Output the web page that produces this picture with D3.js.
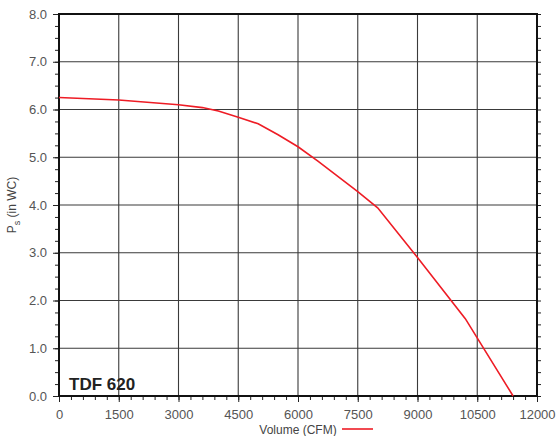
<!DOCTYPE html>
<html>
<head>
<meta charset="utf-8">
<script src="https://cdn.jsdelivr.net/npm/d3@7"></script>
<style>
  body { margin: 0; background: #fff; }
  text { font-family: "Liberation Sans", Arial, sans-serif; }
</style>
</head>
<body>
<div id="chart"></div>
<script>
// Fan curve readings (volume CFM, static pressure in WC)
const volume = [0, 1500, 3000, 3600, 4000, 4500, 5000, 5500, 6000, 6500, 7000, 7500, 8000, 9000, 10200, 11400];
const pressure = [6.25, 6.20, 6.10, 6.04, 5.97, 5.84, 5.70, 5.47, 5.22, 4.92, 4.60, 4.28, 3.94, 2.90, 1.62, 0];
const xTicks = [0, 1500, 3000, 4500, 6000, 7500, 9000, 10500, 12000];
const yTicks = [0, 1, 2, 3, 4, 5, 6, 7, 8];
const modelName = "TDF 620";

const width = 557, height = 436;
const margin = { top: 14, right: 20, bottom: 40, left: 59 };

const svg = d3.select("#chart").append("svg")
    .attr("width", width)
    .attr("height", height);

const x = d3.scaleLinear().domain([0, 12000]).range([margin.left, width - margin.right]);
const y = d3.scaleLinear().domain([0, 8]).range([height - margin.bottom, margin.top]);

const gridColor = "#3a3a3a";

// gridlines
svg.append("g")
    .selectAll("line")
    .data(xTicks.slice(1, -1))
    .join("line")
    .attr("x1", d => x(d)).attr("x2", d => x(d))
    .attr("y1", y(8)).attr("y2", y(0))
    .attr("stroke", gridColor).attr("stroke-width", 1.1);

svg.append("g")
    .selectAll("line")
    .data(yTicks.slice(1, -1))
    .join("line")
    .attr("x1", x(0)).attr("x2", x(12000))
    .attr("y1", d => y(d)).attr("y2", d => y(d))
    .attr("stroke", gridColor).attr("stroke-width", 1.1);

// minor / major ticks
const xMinor = d3.range(0, 12001, 300);
const yMinor = d3.range(0, 8.001, 0.25);

svg.append("g")
    .attr("transform", `translate(0,${y(0)})`)
    .call(d3.axisBottom(x).tickValues(xMinor).tickSize(4).tickFormat(""))
    .call(g => g.select(".domain").remove())
    .call(g => g.selectAll("line").attr("stroke", "#222"));

svg.append("g")
    .attr("transform", `translate(0,${y(0)})`)
    .call(d3.axisBottom(x).tickValues(xTicks).tickSize(6).tickPadding(8).tickFormat(d => d))
    .call(g => g.select(".domain").remove())
    .call(g => g.selectAll("line").attr("stroke", "#222"))
    .call(g => g.selectAll("text").attr("fill", "#555").style("font-size", "13px"));

svg.append("g")
    .attr("transform", `translate(${x(0)},0)`)
    .call(d3.axisLeft(y).tickValues(yMinor).tickSize(4).tickFormat(""))
    .call(g => g.select(".domain").remove())
    .call(g => g.selectAll("line").attr("stroke", "#222"));

svg.append("g")
    .attr("transform", `translate(${x(0)},0)`)
    .call(d3.axisLeft(y).tickValues(yTicks).tickSize(6).tickPadding(6).tickFormat(d3.format(".1f")))
    .call(g => g.select(".domain").remove())
    .call(g => g.selectAll("line").attr("stroke", "#222"))
    .call(g => g.selectAll("text").attr("fill", "#555").style("font-size", "13px"));

svg.append("g")
    .attr("transform", `translate(${x(12000)},0)`)
    .call(d3.axisRight(y).tickValues(yMinor).tickSize(4).tickFormat(""))
    .call(g => g.select(".domain").remove())
    .call(g => g.selectAll("line").attr("stroke", "#222"));

// frame
svg.append("rect")
    .attr("x", x(0)).attr("y", y(8))
    .attr("width", x(12000) - x(0)).attr("height", y(0) - y(8))
    .attr("fill", "none").attr("stroke", "#111").attr("stroke-width", 2);

// curve
const line = d3.line().x((d, i) => x(volume[i])).y(d => y(d));
svg.append("path")
    .datum(pressure)
    .attr("d", line)
    .attr("fill", "none")
    .attr("stroke", "#ee1c25")
    .attr("stroke-width", 1.6);

// model label
svg.append("text")
    .attr("x", x(0) + 10).attr("y", y(0) - 6)
    .attr("fill", "#222")
    .style("font-size", "17px").style("font-weight", "bold")
    .text(modelName);

// axis titles
svg.append("text")
    .attr("x", 298).attr("y", 434)
    .attr("text-anchor", "middle")
    .attr("fill", "#444")
    .style("font-size", "12px")
    .text("Volume (CFM)");

svg.append("line")
    .attr("x1", 342).attr("x2", 373)
    .attr("y1", 429).attr("y2", 429)
    .attr("stroke", "#ee1c25").attr("stroke-width", 1.6);

const yTitle = svg.append("text")
    .attr("transform", `translate(16,${(y(0) + y(8)) / 2}) rotate(-90)`)
    .attr("text-anchor", "middle")
    .attr("fill", "#444")
    .style("font-size", "12px");
yTitle.append("tspan").text("P");
yTitle.append("tspan").attr("dy", 4).style("font-size", "9px").text("s");
yTitle.append("tspan").attr("dy", -4).text(" (in WC)");
</script>
</body>
</html>
